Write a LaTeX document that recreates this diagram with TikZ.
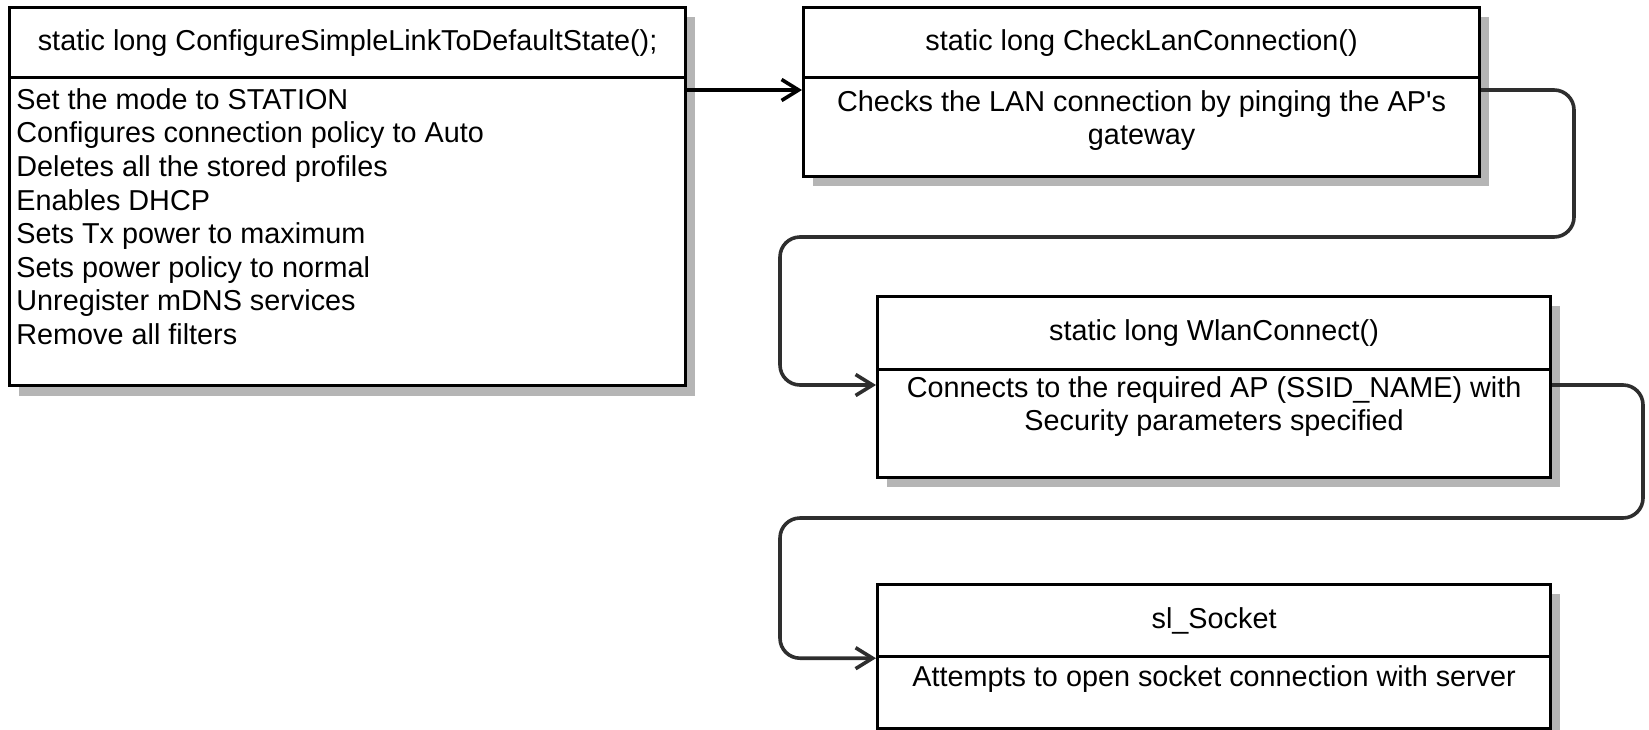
\documentclass[tikz,border=0pt]{standalone}
\usepackage{fontspec}
\setmainfont{Liberation Sans}
\usetikzlibrary{arrows.meta,calc}
\definecolor{shadowgray}{HTML}{B5B5B5}
\definecolor{linegray}{HTML}{2E2E2E}
\tikzset{
  boxpart/.style={draw=black, line width=1.6pt, fill=white, inner sep=0pt, anchor=north west},
  headtxt/.style={font=\fontsize{14.4pt}{16.8pt}\selectfont, inner sep=0pt},
  bodytxt/.style={font=\fontsize{14.4pt}{16.8pt}\selectfont, inner sep=0pt},
  shadowbox/.style={fill=shadowgray},
  flow/.style={draw=linegray, line width=1.8pt, rounded corners=10pt,
    -{Straight Barb[length=8.5pt,width=10.5pt,line width=1.8pt]}},
}
\begin{document}
\begin{tikzpicture}[x=0.5pt,y=-0.5pt]
\useasboundingbox (0,0) rectangle (1649,729);
% shadows
\fill[shadowbox] (19,17) rectangle (695,396);
\fill[shadowbox] (813,17) rectangle (1489,186);
\fill[shadowbox] (887,306) rectangle (1560,487);
\fill[shadowbox] (887,594) rectangle (1560,737);
% box 1
\node[boxpart, minimum width=338pt, minimum height=35pt] (h1) at (8,6) {};
\node[boxpart, minimum width=338pt, minimum height=154pt] (b1) at (8,76) {};
\node[headtxt] (t1) at (h1.center) {static long ConfigureSimpleLinkToDefaultState();};
\node[bodytxt, align=left, anchor=north west] (d1) at ($(b1.north west)+(8,12)$)
  {Set the mode to STATION\\Configures connection policy to Auto\\Deletes all the stored profiles\\Enables DHCP\\Sets Tx power to maximum\\Sets power policy to normal\\Unregister mDNS services\\Remove all filters};
% box 2
\node[boxpart, minimum width=338pt, minimum height=35pt] (h2) at (802,6) {};
\node[boxpart, minimum width=338pt, minimum height=49.5pt] (b2) at (802,76) {};
\node[headtxt] (t2) at (h2.center) {static long CheckLanConnection()};
\node[bodytxt, align=center, anchor=north] (d2) at ($(b2.north)+(0,14)$)
  {Checks the LAN connection by pinging the AP\textquotesingle s\\gateway};
% box 3
\node[boxpart, minimum width=336.5pt, minimum height=36.5pt] (h3) at (876,295) {};
\node[boxpart, minimum width=336.5pt, minimum height=54pt] (b3) at (876,368) {};
\node[headtxt] (t3) at (h3.center) {static long WlanConnect()};
\node[bodytxt, align=center, anchor=north] (d3) at ($(b3.north)+(0,8)$)
  {Connects to the required AP (SSID\_NAME) with\\Security parameters specified};
% box 4
\node[boxpart, minimum width=336.5pt, minimum height=36pt] (h4) at (876,583) {};
\node[boxpart, minimum width=336.5pt, minimum height=36pt] (b4) at (876,655) {};
\node[headtxt] (t4) at (h4.center) {sl\_Socket};
\node[bodytxt, align=center, anchor=north] (d4) at ($(b4.north)+(0,10)$)
  {Attempts to open socket connection with server};
% connectors
\draw[flow, draw=black] ([yshift=-7pt]b1.north east) -- ([yshift=-7pt]b2.north west);
\draw[flow] ([yshift=-7pt]b2.north east) -- (1574,90) -- (1574,237) -- (780,237) |- ([yshift=-8.5pt]b3.north west);
\draw[flow] ([yshift=-8.5pt]b3.north east) -- (1643,385) -- (1643,518) -- (780,518) |- (h4.south west);
\end{tikzpicture}
\end{document}
